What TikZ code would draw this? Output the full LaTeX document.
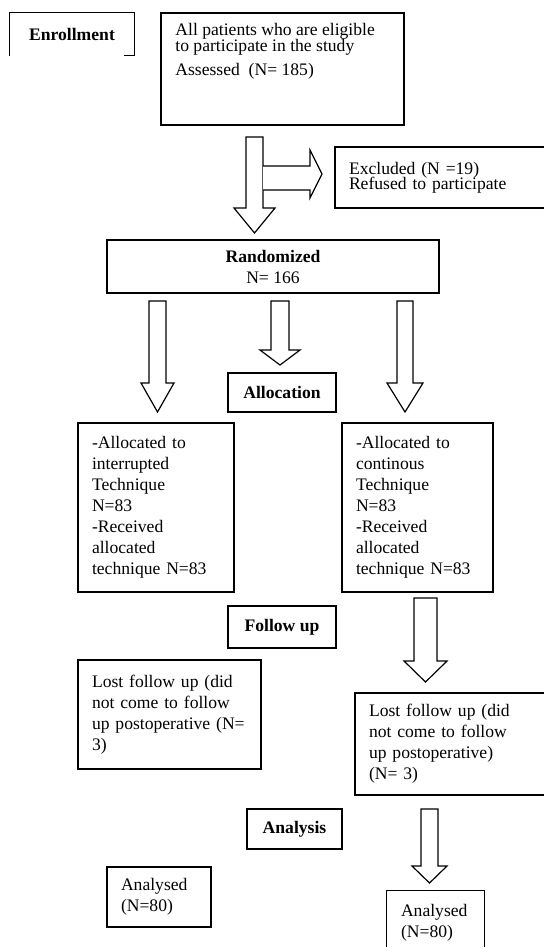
\documentclass[tikz,border=0pt]{standalone}
\usepackage{fontspec}
\setmainfont{Liberation Serif}
\usepackage{tikz}
\tikzset{
  bx/.style={draw=black, line width=0.6pt, fill=white, inner xsep=7pt, inner ysep=0pt, font=\fontsize{8.8}{10.5}\selectfont},
  lbox/.style={bx, align=left},
  cbox/.style={bx, align=center},
  stage/.style={cbox, font=\fontsize{8.8}{10.5}\selectfont\bfseries},
  txt/.style={inner sep=0pt, align=left, font=\fontsize{8.8}{10.5}\selectfont},
  edge/.style={line width=0.6pt},
  blockarr/.style={draw=black, line width=0.6pt, fill=white, line join=miter},
}
\newcommand{\hollowdn}[6]{%
  \draw[blockarr] (#1,#3) -- (#2,#3) -- (#2,#4) -- ({(#1+#2)/2+#5},#4) -- ({(#1+#2)/2},#6)
    -- ({(#1+#2)/2-#5},#4) -- (#1,#4) -- cycle;}

\begin{document}
\begin{tikzpicture}[x=0.5pt, y=-0.5pt]
  \fill[white] (0,0) rectangle (544,947);
  \path[use as bounding box, clip] (0,0) rectangle (544,947);

  \node[stage, draw=none, fill=none, minimum width=62pt, minimum height=21pt] (enrol) at (72,34) {Enrollment};
  \draw[edge] (enrol.south west) -- (enrol.north west) -- (enrol.north east) -- (enrol.south east) -- ++(-11,0);

  \node[bx, minimum width=121.5pt, minimum height=56pt] (allp) at (282.5,69) {};
  \node[txt, anchor=north west] (allptxt) at (175,23) {All patients who are eligible\\[-2.5pt]to participate in the study\\[1.5pt]Assessed\ \ (N= 185)};

  \hollowdn{246}{263}{137}{208}{20.5}{233}
  \draw[blockarr] (263,166) -- (310,166) -- (310,150) -- (322,174) -- (310,198) -- (310,190) -- (263,190);
  \node[lbox, text width=98.5pt, minimum height=30.5pt] (excl) at (447.5,177.5) {Excluded (N =19)\\[-3pt]Refused to participate};

  \node[cbox, minimum width=166pt, minimum height=26.5pt] (rand) at (273,266.5) {\textbf{Randomized}\\N= 166};

  \hollowdn{149}{166}{301}{383}{16.5}{412}
  \hollowdn{271}{289}{301}{350}{20}{365}
  \hollowdn{397}{413}{301}{383}{18}{412}

  \node[stage, minimum width=54pt, minimum height=19.5pt] (alloc) at (282,392.5) {Allocation};

  \node[lbox, text width=64pt, minimum height=84.5pt] (lalloc) at (156,507.5) {-Allocated to\\interrupted\\Technique\\N=83\\-Received\\allocated\\technique N=83};
  \node[lbox, text width=61.5pt, minimum height=84.5pt] (ralloc) at (417.5,507.5) {-Allocated to\\continous\\Technique\\N=83\\-Received\\allocated\\technique N=83};

  \node[stage, minimum width=54pt, minimum height=21pt] (follow) at (282,627) {Follow up};
  \hollowdn{414}{437}{598}{661}{21.5}{682}

  \node[lbox, text width=77.5pt, minimum height=54.5pt] (llost) at (169.5,714.5) {Lost follow up (did\\not come to follow\\up postoperative (N=\\3)};
  \node[lbox, text width=88.5pt, minimum height=51pt] (rlost) at (457.5,744) {Lost follow up (did\\not come to follow\\up postoperative)\\(N= 3)};

  \node[stage, minimum width=47.5pt, minimum height=20pt] (analysis) at (294.5,829) {Analysis};
  \hollowdn{421}{438}{809}{866}{17.5}{883}

  \node[lbox, text width=38pt, minimum height=30pt] (lana) at (159,897) {Analysed\\(N=80)};
  \node[lbox, draw=none, fill=none, text width=34.5pt, minimum height=32pt] (rana) at (435.5,923) {Analysed\\(N=80)};
  \draw[edge] ([yshift=-20pt]rana.south west) -- (rana.north west) -- (rana.north east) -- ([yshift=-20pt]rana.south east);
\end{tikzpicture}
\end{document}
